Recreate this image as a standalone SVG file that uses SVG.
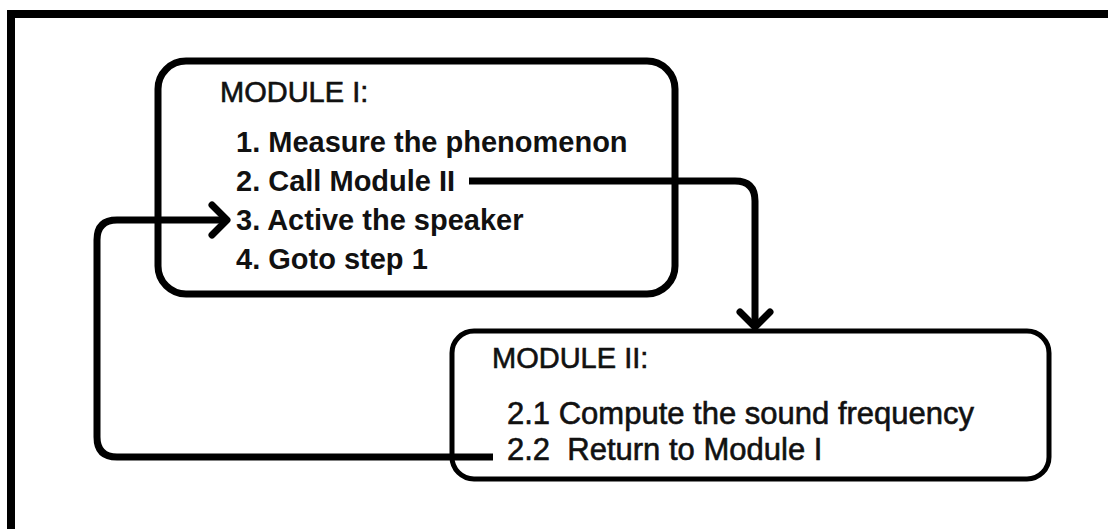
<svg xmlns="http://www.w3.org/2000/svg" width="1108" height="529" viewBox="0 0 1108 529">
<style>
  .frame{fill:none;stroke:#000;stroke-width:8}
  .box1{fill:#fff;stroke:#000;stroke-width:7}
  .box2{fill:#fff;stroke:#000;stroke-width:5}
  .conn{fill:none;stroke:#000;stroke-width:7;stroke-linejoin:round}
  .head{fill:none;stroke:#000;stroke-width:7;stroke-linecap:round;stroke-linejoin:round}
  .t{font-family:"Liberation Sans",Arial,sans-serif;fill:#111;white-space:pre}
  .title{font-size:29px;stroke:#111;stroke-width:0.6}
  .item1{font-size:29px;font-weight:bold}
  .item2{font-size:31px;stroke:#111;stroke-width:0.6}
</style>
<rect width="1108" height="529" fill="#fff"/>
<path class="frame" d="M11,529 V14 H1108"/>
<g id="module1">
  <rect class="box1" x="158" y="61" width="517" height="233" rx="28"/>
  <text class="t title" x="220" y="102">MODULE I:</text>
  <text class="t item1" x="236" y="152">1. Measure the phenomenon</text>
  <text class="t item1" x="236" y="191">2. Call Module II</text>
  <text class="t item1" x="236" y="230">3. Active the speaker</text>
  <text class="t item1" x="236" y="269">4. Goto step 1</text>
</g>
<g id="module2">
  <rect class="box2" x="452" y="331" width="597" height="148" rx="22"/>
  <text class="t title" x="492" y="368">MODULE II:</text>
  <text class="t item2" x="507" y="424">2.1 Compute the sound frequency</text>
  <text class="t item2" x="507" y="460">2.2  Return to Module I</text>
</g>
<g id="connectors">
  <path class="conn" d="M469,181 H735 Q755,181 755,201 V325"/>
  <path class="head" d="M740,312 L755,327 L770,312"/>
  <path class="conn" d="M493,457 H117 Q97,457 97,437 V240 Q97,220 117,220 H225"/>
  <path class="head" d="M212,205 L227,220 L212,235"/>
</g>
</svg>
